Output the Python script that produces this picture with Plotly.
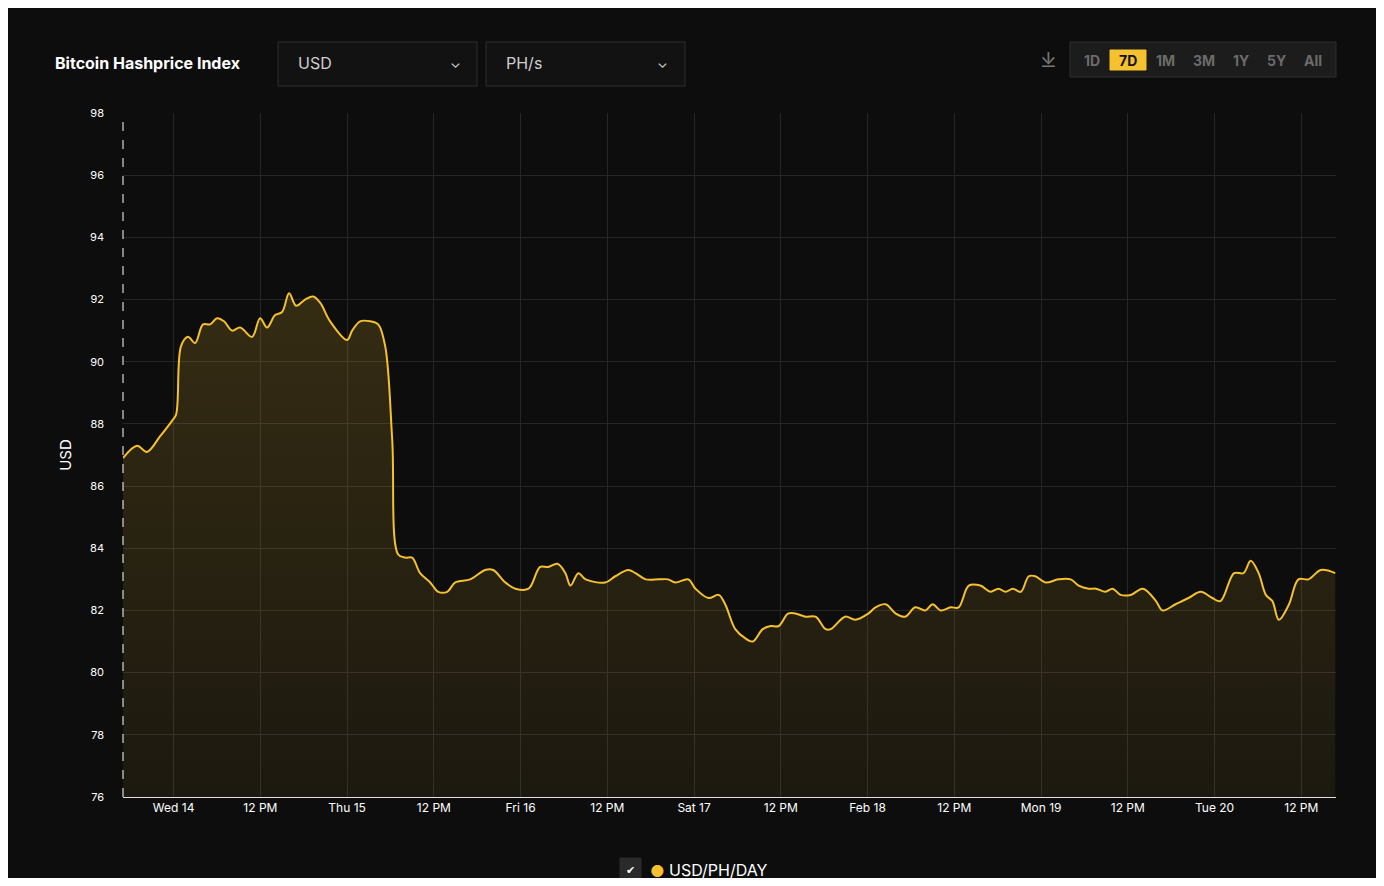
import plotly.graph_objects as go
from datetime import datetime, timedelta

start = datetime(2024, 2, 13, 17, 0)
hours = [0,1.94,3.32,5.12,6.78,7.34,8.03,9.0,9.97,11.07,12.04,13.01,13.98,15.09,16.2,17.86,18.96,19.93,21.04,22.01,22.98,23.95,25.19,26.3,27.27,28.65,31.0,31.7,32.8,34.2,35.3,36.27,37.24,38.07,39.04,40.0,41.1,42.5,43.6,44.85,45.96,48.03,50.1,51.2,52.9,54.3,56.1,57.7,58.8,60.1,61.2,61.9,63.0,64.0,66.7,68.1,69.9,70.9,72.3,74.1,75.4,76.4,78.2,79.2,81.0,82.4,83.3,84.7,86.1,87.1,88.5,89.6,90.7,92.0,93.0,94.4,95.8,97.2,97.9,99.9,101.3,103.1,104.1,105.5,106.9,108.2,109.6,111.0,112.0,113.1,114.5,115.6,117.0,118.6,120.0,121.1,122.1,123.1,124.2,125.3,126.2,127.6,129.4,131.1,132.2,133.6,134.6,135.9,136.9,138.0,139.4,141.1,142.9,143.8,145.6,147.4,149.1,150.7,151.8,153.7,155.0,156.0,157.1,158.1,159.0,159.9,161.3,162.6,164.0,165.7,167.7]
values = [86.9,87.3,87.1,87.6,88.1,88.3,90.5,90.8,90.6,91.2,91.2,91.4,91.3,91.0,91.1,90.8,91.4,91.1,91.5,91.6,92.2,91.8,92.0,92.1,91.9,91.3,90.7,91.0,91.3,91.3,91.2,90.5,87.5,83.8,83.7,83.7,83.2,82.9,82.6,82.6,82.9,83.0,83.3,83.3,82.9,82.7,82.7,83.4,83.4,83.5,83.2,82.8,83.2,83.0,82.9,83.1,83.3,83.2,83.0,83.0,83.0,82.9,83.0,82.7,82.4,82.5,82.2,81.4,81.1,81.0,81.4,81.5,81.5,81.9,81.9,81.8,81.8,81.4,81.4,81.8,81.7,81.9,82.1,82.2,81.9,81.8,82.1,82.0,82.2,82.0,82.1,82.1,82.8,82.8,82.6,82.7,82.6,82.7,82.6,83.1,83.1,82.9,83.0,83.0,82.8,82.7,82.7,82.6,82.7,82.5,82.5,82.7,82.3,82.0,82.2,82.4,82.6,82.4,82.3,83.2,83.2,83.6,83.2,82.5,82.3,81.7,82.2,83.0,83.0,83.3,83.2]
tick_times = ["2024-02-14 00:00","2024-02-14 12:00","2024-02-15 00:00","2024-02-15 12:00","2024-02-16 00:00","2024-02-16 12:00","2024-02-17 00:00","2024-02-17 12:00","2024-02-18 00:00","2024-02-18 12:00","2024-02-19 00:00","2024-02-19 12:00","2024-02-20 00:00","2024-02-20 12:00"]
tick_labels = ["Wed 14","12 PM","Thu 15","12 PM","Fri 16","12 PM","Sat 17","12 PM","Feb 18","12 PM","Mon 19","12 PM","Tue 20","12 PM"]

times = [start + timedelta(hours=h) for h in hours]
end = start + timedelta(hours=167.8)
yellow = "#f5c12e"

fig = go.Figure(go.Scatter(
    x=times, y=values, mode="lines", line=dict(color=yellow, width=2, shape="spline"),
    fill="tozeroy",
    fillgradient=dict(type="vertical", colorscale=[[0, "rgba(245,193,46,0.0)"], [0.8, "rgba(245,193,46,0.05)"], [1, "rgba(245,193,46,0.17)"]]),
    hoverinfo="x+y", showlegend=False))

# page has 8px body margin; figure sized to fit
fig.update_layout(
    width=1368, height=870, paper_bgcolor="#0d0d0d", plot_bgcolor="#0d0d0d",
    margin=dict(l=115, r=40, t=105, b=81),
    font=dict(family="Inter, Roboto, sans-serif", color="#ffffff"),
    xaxis=dict(range=[start, end], tickvals=tick_times, ticktext=tick_labels,
               showgrid=True, gridcolor="#262626", tickfont=dict(size=12, color="#ffffff"),
               showline=True, linecolor="#e0e0e0", ticks="", zeroline=False),
    yaxis=dict(range=[76, 98], dtick=2, showgrid=True, gridcolor="#262626",
               tickfont=dict(size=11, color="#ffffff"), ticklabelstandoff=18,
               title=dict(text="USD", font=dict(size=15, color="#ffffff"), standoff=14),
               zeroline=False, showline=False),
)

def P(x, y):
    return (x - 123) / 1213, (797 - y) / 684

def px_rect(x0, y0, x1, y1, fill, line="#2e2e2e"):
    X0, Y1 = P(x0, y0); X1, Y0 = P(x1, y1)
    return dict(type="rect", xref="paper", yref="paper", x0=X0, x1=X1, y0=Y0, y1=Y1,
                fillcolor=fill, line=dict(color=line, width=1), layer="below")

shapes = [dict(type="line", xref="paper", yref="paper", x0=0, x1=0, y0=0, y1=1,
               line=dict(color="#ffffff", width=1, dash="dash")),
          px_rect(278, 42, 477, 86, "#121212"),
          px_rect(486, 42, 685, 86, "#121212"),
          px_rect(1070, 42, 1336, 77, "#1c1c1c"),
          px_rect(1110, 50, 1146, 70, yellow, line=yellow),
          px_rect(620, 858, 641, 882, "#2a2a2a", line="#2a2a2a")]
fig.update_layout(shapes=shapes)

def ann(x, y, text, size=13, color="#ffffff", anchor="left", bold=False):
    t = f"<b>{text}</b>" if bold else text
    X, Y = P(x, y)
    fig.add_annotation(x=X, y=Y, xref="paper", yref="paper", text=t,
                       showarrow=False, xanchor=anchor, yanchor="middle",
                       font=dict(size=size, color=color))
ann(53, 63, "Bitcoin Hashprice Index", 16, bold=True)
ann(296, 63, "USD", 16, "#cfcfcf")
ann(504, 63, "PH/s", 16, "#cfcfcf")
ann(455, 63, "⌄", 14, "#cfcfcf", "center")
ann(662, 63, "⌄", 14, "#cfcfcf", "center")
ann(1048, 60, "⤓", 20, "#777777", "center")
for lbl, cx in zip(["1D","7D","1M","3M","1Y","5Y","All"], [1092,1128,1165,1204,1241,1276,1313]):
    ann(cx, 60, lbl, 14, "#111111" if lbl == "7D" else "#6b6b6b", "center", bold=True)
ann(630, 870, "✔", 11, "#ffffff", "center")
ann(657, 871, "●", 16, yellow, "center")
ann(667, 870, "USD/PH/DAY", 16, "#ffffff")

fig.write_html("out.html")
